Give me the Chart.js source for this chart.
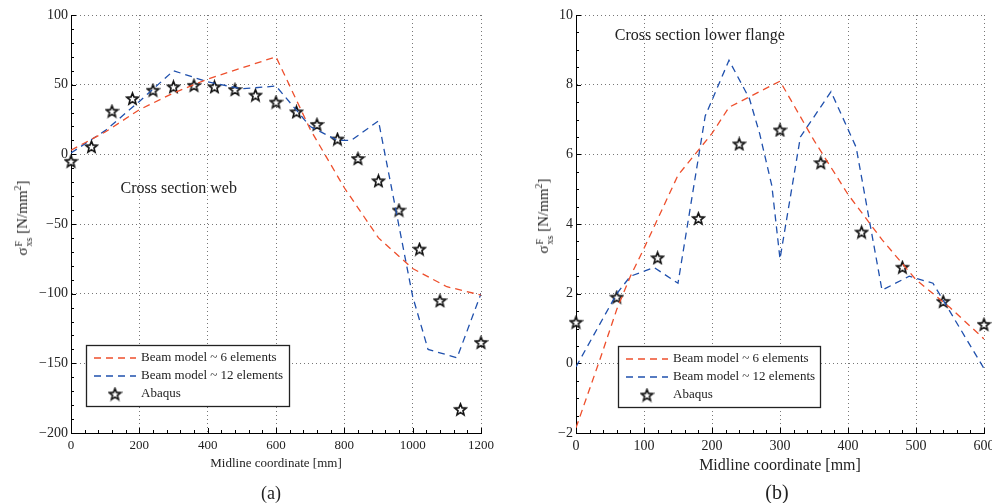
<!DOCTYPE html>
<html lang="en">
<head>
<meta charset="UTF-8">
<title>Stress along midline - web and lower flange</title>
<script src="https://cdn.jsdelivr.net/npm/chart.js"></script>
<style>
  body { margin: 0; background: #fff; font-family: 'Liberation Serif', 'Times New Roman', serif; color: #222; }
  #wrap { position: relative; width: 992px; height: 503px; overflow: hidden; }
  canvas { position: absolute; top: 0; }
  #web { left: 0; }
  #flange { left: 496px; }
  .ytitle { position: absolute; transform: translate(-50%, -50%) rotate(-90deg); white-space: nowrap; font-size: 15px; }
  .ytitle sup { font-size: 10px; vertical-align: 6px; line-height: 0; }
  .ss { display: inline-flex; flex-direction: column; font-size: 10px; line-height: 10px; vertical-align: 5px; margin-left: 1px; }
  .caption { position: absolute; transform: translate(-50%, -50%); }
</style>
</head>
<body>
<div id="wrap">
  <canvas id="web" width="496" height="503"></canvas>
  <canvas id="flange" width="496" height="503"></canvas>
  <div class="ytitle" style="left:24px; top:218px;">σ<span class="ss"><span>F</span><span>xs</span></span> [N/mm<sup>2</sup>]</div>
  <div class="ytitle" style="left:545px; top:216px;">σ<span class="ss"><span>F</span><span>xs</span></span> [N/mm<sup>2</sup>]</div>
  <div class="caption" style="left:271px; top:493px; font-size:18px;">(a)</div>
  <div class="caption" style="left:777px; top:492px; font-size:20px;">(b)</div>
</div>

<script>
// (a) cross section web
const webX6 = [0, 100, 200, 300, 400, 500, 600, 700, 800, 900, 1000, 1100, 1200];
const webY6 = [3, 16, 32, 44, 54, 62, 70, 18, -24, -60, -82, -95, -101];
const webX12 = [0, 100, 200, 300, 400, 500, 600, 700, 780, 820, 900, 1000, 1045, 1130, 1200];
const webY12 = [1, 17, 38, 60, 52, 47, 49, 20, 10, 10, 24, -102, -140, -146, -100];
const webAbaqusX = [0, 60, 120, 180, 240, 300, 360, 420, 480, 540, 600, 660, 720, 780, 840, 900, 960, 1020, 1080, 1140, 1200];
const webAbaqusY = [-5, 5.5, 31, 40, 46, 48.5, 49.5, 48.5, 46.5, 42.5, 37.5, 30.5, 21.5, 11, -3, -19, -40, -68, -105, -183, -135];

// (b) cross section lower flange
const flX6 = [0, 35, 60, 80, 100, 150, 200, 225, 250, 300, 350, 400, 450, 500, 550, 600];
const flY6 = [-1.85, 0.1, 1.55, 2.5, 3.3, 5.4, 6.6, 7.35, 7.6, 8.1, 6.4, 4.85, 3.55, 2.4, 1.6, 0.7];
const flX12 = [0, 60, 80, 115, 150, 190, 225, 255, 270, 288, 300, 330, 375, 412, 450, 490, 525, 600];
const flY12 = [-0.1, 2.0, 2.5, 2.75, 2.3, 7.1, 8.7, 7.6, 6.6, 5.1, 3.0, 6.5, 7.8, 6.2, 2.1, 2.5, 2.3, -0.15];
const flAbaqusX = [0, 60, 120, 180, 240, 300, 360, 420, 480, 540, 600];
const flAbaqusY = [1.18, 1.9, 3.03, 4.16, 6.3, 6.7, 5.76, 3.77, 2.76, 1.78, 1.12];

const seriesNames = ['Beam model ~ 6 elements', 'Beam model ~ 12 elements', 'Abaqus'];
const RED = '#ee4f2c';
const BLUE = '#1f50ad';
const SERIF = "'Liberation Serif', 'Times New Roman', serif";

function makeStar(size) {
  const c = document.createElement('canvas');
  c.width = c.height = size;
  const g = c.getContext('2d');
  const R = size / 2 - 1.5, r = R * 0.43, cx = size / 2, cy = size / 2 + 0.5;
  g.beginPath();
  for (let i = 0; i < 10; i++) {
    const rad = i % 2 ? r : R;
    const ang = -Math.PI / 2 + i * Math.PI / 5;
    g.lineTo(cx + rad * Math.cos(ang), cy + rad * Math.sin(ang));
  }
  g.closePath();
  g.fillStyle = '#fff';
  g.fill();
  g.lineWidth = 1.6;
  g.strokeStyle = '#111';
  g.stroke();
  return c;
}
const star = makeStar(15);

const toPts = (xs, ys) => xs.map((x, i) => ({ x, y: ys[i] }));
const minus = v => (v < 0 ? '\u2212' + Math.abs(v) : '' + v);

// minor ticks, text note and the boxed legend
const decor = {
  id: 'decor',
  beforeDatasetsDraw(chart, args, opts) {
    const { ctx, chartArea: a, scales: { x, y } } = chart;
    ctx.save();
    ctx.strokeStyle = '#000';
    ctx.lineWidth = 1;
    ctx.beginPath();
    const xStep = x.options.ticks.stepSize, yStep = y.options.ticks.stepSize;
    for (let v = x.min; v <= x.max + 1e-9; v += opts.minorX) {
      const px = Math.round(x.getPixelForValue(v)) + 0.5;
      const major = Math.abs(v / xStep - Math.round(v / xStep)) < 1e-6;
      ctx.moveTo(px, a.bottom);
      ctx.lineTo(px, a.bottom - (major ? 5 : 3));
    }
    for (let v = y.min; v <= y.max + 1e-9; v += opts.minorY) {
      const py = Math.round(y.getPixelForValue(v)) + 0.5;
      const major = Math.abs(v / yStep - Math.round(v / yStep)) < 1e-6;
      ctx.moveTo(a.left, py);
      ctx.lineTo(a.left + (major ? 5 : 3), py);
    }
    ctx.stroke();
    ctx.restore();
  },
  afterDraw(chart, args, opts) {
    const { ctx, scales: { x, y } } = chart;
    ctx.save();
    ctx.fillStyle = '#222';
    ctx.font = opts.noteSize + 'px ' + SERIF;
    ctx.textBaseline = 'middle';
    ctx.textAlign = 'left';
    ctx.fillText(opts.note, x.getPixelForValue(opts.noteX), y.getPixelForValue(opts.noteY));

    const L = opts.legend;
    ctx.fillStyle = '#fff';
    ctx.fillRect(L.x, L.y, L.w, L.h);
    ctx.strokeStyle = '#222';
    ctx.lineWidth = 1.3;
    ctx.strokeRect(L.x + 0.5, L.y + 0.5, L.w, L.h);
    ctx.font = '13px ' + SERIF;
    const rows = [13, 31, 49];
    const ds = chart.data.datasets;
    rows.forEach((dy, i) => {
      const ry = L.y + dy;
      if (i < 2) {
        ctx.strokeStyle = ds[i].borderColor;
        ctx.lineWidth = 1.3;
        ctx.setLineDash([7, 5]);
        ctx.beginPath();
        ctx.moveTo(L.x + 8, ry);
        ctx.lineTo(L.x + 50, ry);
        ctx.stroke();
        ctx.setLineDash([]);
      } else {
        ctx.drawImage(star, L.x + 29 - star.width / 2, ry - star.height / 2);
      }
      ctx.fillStyle = '#222';
      ctx.fillText(ds[i].label, L.x + 55, ry);
    });
    ctx.restore();
  }
};

function makeChart(id, s) {
  return new Chart(document.getElementById(id), {
    type: 'scatter',
    data: {
      datasets: [
        { label: seriesNames[0], data: toPts(s.x6, s.y6), showLine: true, borderColor: RED, borderWidth: 1.3, borderDash: [7, 5], pointRadius: 0, tension: 0 },
        { label: seriesNames[1], data: toPts(s.x12, s.y12), showLine: true, borderColor: BLUE, borderWidth: 1.3, borderDash: [7, 5], pointRadius: 0, tension: 0 },
        { label: seriesNames[2], data: toPts(s.ax, s.ay), showLine: false, pointStyle: star, pointRadius: 7, clip: false }
      ]
    },
    options: {
      responsive: false,
      animation: false,
      events: [],
      layout: { padding: { top: 15, right: s.padRight, bottom: 0, left: 0 } },
      plugins: {
        legend: { display: false },
        tooltip: { enabled: false },
        decor: s.decor
      },
      scales: {
        x: {
          type: 'linear', min: s.xMin, max: s.xMax,
          ticks: { stepSize: s.xStep, padding: 5, color: '#222', font: { family: SERIF, size: s.xTickSize }, maxRotation: 0, autoSkip: false, callback: minus },
          grid: { color: '#777', lineWidth: 1, drawTicks: false },
          border: { display: true, color: '#000', width: 1, dash: [1, 3] },
          title: { display: true, text: 'Midline coordinate [mm]', color: '#222', font: { family: SERIF, size: s.titleSize }, padding: { top: 0, bottom: s.titlePad } },
          afterFit(sc) { sc.height = 70; sc.paddingLeft = 0; sc.paddingRight = 0; }
        },
        y: {
          type: 'linear', min: s.yMin, max: s.yMax,
          ticks: { stepSize: s.yStep, padding: 3, color: '#222', font: { family: SERIF, size: s.yTickSize }, callback: minus },
          grid: { color: '#777', lineWidth: 1, drawTicks: false },
          border: { display: true, color: '#000', width: 1, dash: [1, 3] },
          afterFit(sc) { sc.width = s.yWidth; sc.paddingTop = 0; sc.paddingBottom = 0; }
        }
      }
    },
    plugins: [decor]
  });
}

makeChart('web', {
  x6: webX6, y6: webY6, x12: webX12, y12: webY12, ax: webAbaqusX, ay: webAbaqusY,
  xMin: 0, xMax: 1200, xStep: 200, yMin: -200, yMax: 100, yStep: 50,
  xTickSize: 13, yTickSize: 14, titleSize: 13, titlePad: 32, yWidth: 71, padRight: 15,
  decor: { minorX: 40, minorY: 10, note: 'Cross section web', noteX: 145, noteY: -25, noteSize: 16,
           legend: { x: 86, y: 345, w: 203, h: 61 } }
});

makeChart('flange', {
  x6: flX6, y6: flY6, x12: flX12, y12: flY12, ax: flAbaqusX, ay: flAbaqusY,
  xMin: 0, xMax: 600, xStep: 100, yMin: -2, yMax: 10, yStep: 2,
  xTickSize: 14, yTickSize: 14, titleSize: 16, titlePad: 28, yWidth: 80, padRight: 5,
  decor: { minorX: 20, minorY: 0.5, note: 'Cross section lower flange', noteX: 57, noteY: 9.41, noteSize: 16,
           legend: { x: 122, y: 346, w: 202, h: 61 } }
});
</script>
</body>
</html>
